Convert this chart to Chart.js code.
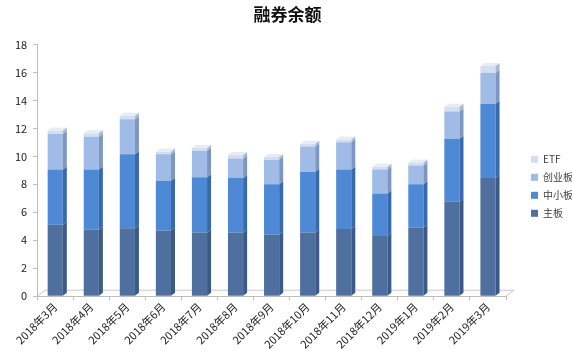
<!DOCTYPE html>
<html>
<head>
<meta charset="utf-8">
<script src="https://cdn.jsdelivr.net/npm/chart.js@4/dist/chart.umd.min.js"></script>
<style>
  html, body { margin: 0; padding: 0; background: #fff; }
  #wrap { width: 572px; height: 351px; }
</style>
</head>
<body>
<div id="wrap"><canvas id="chart" width="572" height="351"></canvas></div>
<script>
"use strict";

// data
var months = ["2018年3月", "2018年4月", "2018年5月", "2018年6月", "2018年7月", "2018年8月", "2018年9月",
  "2018年10月", "2018年11月", "2018年12月", "2019年1月", "2019年2月", "2019年3月"];
var mainBoard = [5.1, 4.75, 4.85, 4.7, 4.55, 4.55, 4.4, 4.55, 4.8, 4.3, 4.9, 6.75, 8.45];
var smeBoard = [3.95, 4.3, 5.3, 3.55, 3.95, 3.9, 3.6, 4.35, 4.25, 3.05, 3.1, 4.5, 5.3];
var gemBoard = [2.55, 2.35, 2.5, 1.9, 1.9, 1.4, 1.75, 1.8, 1.95, 1.7, 1.35, 1.95, 2.2];
var etf = [0.25, 0.25, 0.25, 0.2, 0.2, 0.25, 0.2, 0.2, 0.2, 0.2, 0.2, 0.35, 0.5];
var yTicks = [0, 2, 4, 6, 8, 10, 12, 14, 16, 18];

var FONT = "'Noto Sans CJK SC', 'Noto Sans', sans-serif";

/*-- fake 3d faces on top of the library bars --*/
var sideColors = ["#3c5a86", "#3869ad", "#7d97c0", "#a9b7cc"];
var topColors = ["#6d8cba", "#77a5e4", "#c3d5f0", "#e6ecf5"];
var bar3d = {
  id: 'bar3d',
  afterLayout: function (chart) {
    // push the legend closer to the right edge, like the original
    if (chart.legend) {
      chart.legend.left += 17;
      chart.legend.right += 17;
    }
  },
  afterDatasetsDraw: function (chart) {
    var ctx = chart.ctx;
    var dx = 4, dy = 3;
    var last = chart.data.datasets.length - 1;
    chart.data.datasets.forEach(function (ds, i) {
      var meta = chart.getDatasetMeta(i);
      meta.data.forEach(function (bar) {
        var p = bar.getProps(['x', 'y', 'base', 'width'], true);
        var l = p.x - p.width / 2, r = p.x + p.width / 2;
        ctx.save();
        ctx.fillStyle = sideColors[i];
        ctx.beginPath();
        ctx.moveTo(r, p.y);
        ctx.lineTo(r + dx, p.y - dy);
        ctx.lineTo(r + dx, p.base - dy);
        ctx.lineTo(r, p.base);
        ctx.closePath();
        ctx.fill();
        if (i === last) {
          ctx.fillStyle = topColors[i];
          ctx.beginPath();
          ctx.moveTo(l, p.y);
          ctx.lineTo(l + dx, p.y - dy);
          ctx.lineTo(r + dx, p.y - dy);
          ctx.lineTo(r, p.y);
          ctx.closePath();
          ctx.fill();
        }
        ctx.restore();
      });
    });
  },
  beforeDatasetsDraw: function (chart) {
    // floor
    var ctx = chart.ctx, a = chart.chartArea;
    var y0 = chart.scales.y.getPixelForValue(0);
    ctx.save();
    ctx.strokeStyle = '#c8c8c8';
    ctx.lineWidth = 1;
    ctx.beginPath();
    ctx.moveTo(a.left, y0);
    ctx.lineTo(a.left + 8, y0 - 6);
    ctx.lineTo(a.right + 8, y0 - 6);
    ctx.lineTo(a.right, y0);
    ctx.stroke();
    ctx.restore();
  }
};

new Chart(document.getElementById("chart").getContext("2d"), {
  type: 'bar',
  data: {
    labels: months,
    datasets: [
      { label: "主板", data: mainBoard, backgroundColor: "#4f709f" },
      { label: "中小板", data: smeBoard, backgroundColor: "#4e89d6" },
      { label: "创业板", data: gemBoard, backgroundColor: "#9fbbe6" },
      { label: "ETF", data: etf, backgroundColor: "#d3def0" }
    ]
  },
  options: {
    responsive: false,
    animation: false,
    layout: { padding: { left: 9, right: 6, top: 0, bottom: 0 } },
    datasets: { bar: { categoryPercentage: 1, barPercentage: 0.42 } },
    plugins: {
      title: {
        display: true,
        text: "融券余额",
        color: "#111",
        font: { family: FONT, size: 17, weight: 'bold' },
        padding: { top: 4, bottom: 20 }
      },
      legend: {
        position: 'right',
        reverse: true,
        title: { display: true, text: ' ', font: { size: 8 }, padding: 6 },
        labels: {
          boxWidth: 7,
          boxHeight: 7,
          padding: 8,
          color: "#404040",
          font: { family: FONT, size: 10 }
        }
      },
      tooltip: { enabled: false }
    },
    scales: {
      x: {
        stacked: true,
        grid: { display: true, drawOnChartArea: false, color: '#bdbdbd', tickLength: 4 },
        border: { color: '#bdbdbd' },
        ticks: {
          color: "#222",
          maxRotation: 45,
          minRotation: 45,
          padding: 0,
          font: { family: FONT, size: 11 }
        }
      },
      y: {
        stacked: true,
        min: 0,
        max: 18,
        afterBuildTicks: function (axis) {
          axis.ticks = yTicks.map(function (v) { return { value: v }; });
        },
        grid: { display: true, drawOnChartArea: false, color: '#bdbdbd', tickLength: 4 },
        border: { color: '#bdbdbd' },
        ticks: {
          color: "#222",
          padding: 6,
          font: { family: FONT, size: 11 }
        }
      }
    }
  },
  plugins: [bar3d]
});
</script>
</body>
</html>
